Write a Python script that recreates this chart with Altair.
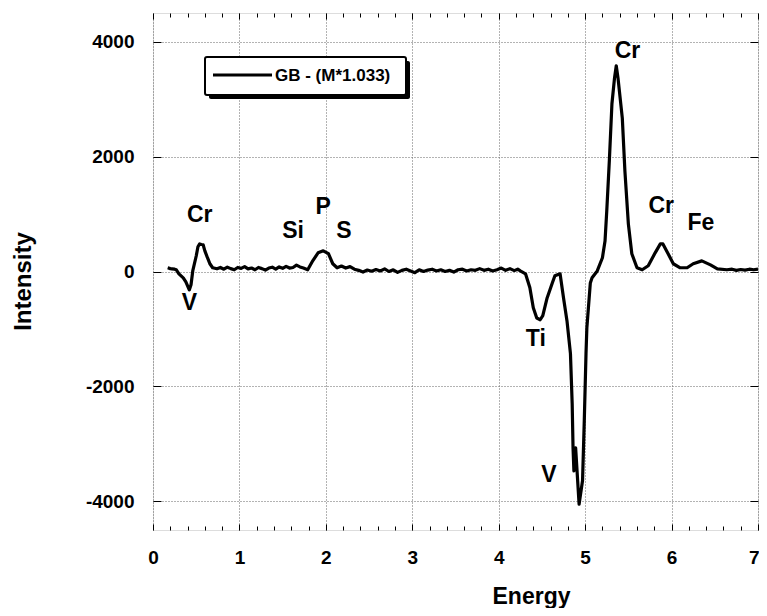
import altair as alt
import pandas as pd

# ---- data ----
energy = [0.17, 0.20, 0.22, 0.25, 0.27, 0.30, 0.35, 0.38, 0.42, 0.44, 0.46, 0.50, 0.52, 0.54, 0.56, 0.58,
          0.60, 0.63, 0.66, 0.69, 0.74, 0.78, 0.82, 0.86, 0.90, 0.94, 0.98, 1.02, 1.06, 1.10, 1.14, 1.18,
          1.22, 1.26, 1.30, 1.34, 1.38, 1.42, 1.46, 1.50, 1.54, 1.58, 1.62, 1.66, 1.70, 1.74, 1.79, 1.85,
          1.91, 1.97, 2.03, 2.08, 2.13, 2.18, 2.23, 2.28, 2.33, 2.38, 2.43, 2.48, 2.53, 2.58, 2.63, 2.68,
          2.73, 2.78, 2.83, 2.88, 2.93, 2.98, 3.03, 3.08, 3.13, 3.18, 3.23, 3.28, 3.33, 3.38, 3.43, 3.48,
          3.53, 3.58, 3.63, 3.68, 3.73, 3.78, 3.83, 3.88, 3.93, 3.98, 4.03, 4.08, 4.13, 4.18, 4.22, 4.25,
          4.31, 4.36, 4.40, 4.44, 4.48, 4.51, 4.56, 4.62, 4.65, 4.71, 4.75, 4.79, 4.83, 4.85, 4.86, 4.87,
          4.89, 4.93, 4.97, 4.99, 5.01, 5.02, 5.06, 5.08, 5.14, 5.20, 5.23, 5.25, 5.28, 5.31, 5.34, 5.36,
          5.38, 5.43, 5.46, 5.50, 5.54, 5.60, 5.66, 5.73, 5.81, 5.87, 5.90, 5.96, 6.02, 6.10, 6.18, 6.25,
          6.35, 6.45, 6.53, 6.64, 6.70, 6.75, 6.80, 6.85, 6.90, 6.95, 7.00]
intensity = [64, 50, 47, 40, 30, -40, -110, -180, -320, -230, 10, 270, 430, 480, 470, 465,
             360, 240, 130, 65, 47, 70, 40, 75, 50, 30, 70, 55, 85, 45, 60, 30,
             70, 50, 25, 60, 75, 40, 80, 55, 90, 60, 70, 110, 80, 60, 30, 190,
             325, 360, 310, 135, 65, 95, 60, 85, 40, 20, -10, 25, 5, 35, 10, 45,
             0, 30, -15, 20, 40, 10, -20, 30, 0, 25, 40, 10, 30, 0, 20, -10,
             30, 40, 10, 30, 20, 50, 20, 40, 10, 30, 60, 20, 50, 15, 40, 10,
             -40, -280, -630, -810, -840, -770, -460, -200, -75, -40, -460, -860, -1430, -2300, -3070, -3470,
             -3070, -4050, -3640, -2600, -1430, -980, -200, -110, 10, 240, 530, 1050, 1930, 2920, 3370, 3580,
             3370, 2670, 1750, 830, 310, 65, 30, 100, 325, 480, 480, 310, 135, 65, 65, 135,
             185, 115, 47, 30, 40, 20, 35, 25, 40, 30, 40]

series_name = "GB - (M*1.033)"

peak_labels = ["Cr", "V", "Si", "P", "S", "Ti", "V", "Cr", "Cr", "Fe"]
peak_energy = [0.54, 0.42, 1.62, 1.97, 2.21, 4.43, 4.58, 5.49, 5.88, 6.34]
peak_intensity = [990, -545, 710, 1130, 710, -1170, -3540, 3840, 1140, 845]

x_ticks = [0, 1, 2, 3, 4, 5, 6, 7]
x_minor = [round(i * 0.2, 1) for i in range(36) if i % 5 != 0]
y_ticks = [-4000, -2000, 0, 2000, 4000]

# ---- layout ----
W, H = 605, 517
FONT = "Liberation Sans"

df = pd.DataFrame({"Energy": energy, "Intensity": intensity})
peaks = pd.DataFrame({"Energy": peak_energy, "Intensity": peak_intensity, "label": peak_labels})
one = pd.DataFrame({"label": [series_name]})

xs = alt.Scale(domain=[0, 7], nice=False, zero=False)
ys = alt.Scale(domain=[-4500, 4500], nice=False, zero=False)

x_main = alt.Axis(values=x_ticks, labelExpr="'' + datum.value", title="Energy", grid=True,
                  ticks=False, tickSize=0, domain=False, labelFontSize=19, labelFontWeight="bold",
                  labelFont=FONT, labelColor="black", labelPadding=18, labelFlush=False,
                  labelAlign={"condition": {"test": "datum.value === 7", "value": "right"},
                              "value": "center"},
                  labelOffset={"condition": {"test": "datum.value === 7", "value": 1},
                               "value": 0},
                  titleFont=FONT, titleFontSize=23, titleFontWeight="bold", titleColor="black",
                  titleX=378, titleY=73, titleBaseline="alphabetic", titleAlign="center",
                  gridColor="#666666", gridDash=[1, 2], gridWidth=1, gridOpacity=1)
y_main = alt.Axis(values=y_ticks, labelExpr="'' + datum.value", title="Intensity", grid=True,
                  ticks=False, tickSize=0, domain=False, labelFontSize=19, labelFontWeight="bold",
                  labelFont=FONT, labelColor="black", labelPadding=19, labelFlush=False,
                  titleFont=FONT, titleFontSize=24, titleFontWeight="bold", titleColor="black",
                  titleAngle=270, titleX=-123, titleY=268, titleBaseline="alphabetic",
                  titleAlign="center",
                  gridColor="#666666", gridDash=[1, 2], gridWidth=1, gridOpacity=1)


def tick_axis(orient, offset, values, size):
    return alt.Axis(orient=orient, offset=offset, values=values, labels=False, domain=False,
                    grid=False, ticks=True, tickSize=size, tickColor="black", tickWidth=1,
                    title="")


line = alt.Chart(df).mark_line(color="black", strokeWidth=3.2, strokeJoin="round").encode(
    x=alt.X("Energy:Q", scale=xs, axis=x_main),
    y=alt.Y("Intensity:Q", scale=ys, axis=y_main),
    order="Energy:Q",
)

ticks1 = alt.Chart(df).mark_line(opacity=0).encode(
    x=alt.X("Energy:Q", scale=xs, axis=tick_axis("top", -H, x_ticks, 6)),
    y=alt.Y("Intensity:Q", scale=ys, axis=tick_axis("right", -W, y_ticks, 8)),
)
ticks2 = alt.Chart(df).mark_line(opacity=0).encode(
    x=alt.X("Energy:Q", scale=xs, axis=tick_axis("bottom", -H, x_ticks, 6)),
    y=alt.Y("Intensity:Q", scale=ys, axis=tick_axis("left", -W, y_ticks, 8)),
)
ticks3 = alt.Chart(df).mark_line(opacity=0).encode(
    x=alt.X("Energy:Q", scale=xs, axis=tick_axis("top", -H, x_minor, 4)),
    y=alt.Y("Intensity:Q", scale=ys, axis=None),
)
ticks4 = alt.Chart(df).mark_line(opacity=0).encode(
    x=alt.X("Energy:Q", scale=xs, axis=tick_axis("bottom", -H, x_minor, 4)),
    y=alt.Y("Intensity:Q", scale=ys, axis=None),
)

labels = alt.Chart(peaks).mark_text(font=FONT, fontSize=23, fontWeight="bold", color="black",
                                    align="center", baseline="middle").encode(
    x=alt.X("Energy:Q", scale=xs, axis=None),
    y=alt.Y("Intensity:Q", scale=ys, axis=None),
    text="label:N",
)

# ---- legend box (with drop shadow) ----
shadow = alt.Chart(one).mark_rect(color="black", cornerRadius=2).encode(
    x=alt.value(56), x2=alt.value(257), y=alt.value(48), y2=alt.value(86))
box = alt.Chart(one).mark_rect(fill="white", stroke="black", strokeWidth=2, cornerRadius=2).encode(
    x=alt.value(52), x2=alt.value(253), y=alt.value(44), y2=alt.value(82))
leg_line = alt.Chart(one).mark_rule(color="black", strokeWidth=3).encode(
    x=alt.value(60), x2=alt.value(119), y=alt.value(62))
leg_text = alt.Chart(one).mark_text(font=FONT, fontSize=17, fontWeight="bold", color="black",
                                    align="left", baseline="middle").encode(
    x=alt.value(122), y=alt.value(63), text="label:N")

chart = alt.layer(
    line, ticks1, ticks2, ticks3, ticks4, labels, shadow, box, leg_line, leg_text
).resolve_axis(
    x="independent", y="independent"
).properties(
    width=W, height=H,
    autosize=alt.AutoSizeParams(type="none"),
    padding={"left": 145, "top": 5, "right": 1, "bottom": 78},
).configure_view(
    stroke="black", strokeWidth=1
).configure(background="white")

chart.save("out.html", embed_options={"renderer": "svg", "actions": False})
